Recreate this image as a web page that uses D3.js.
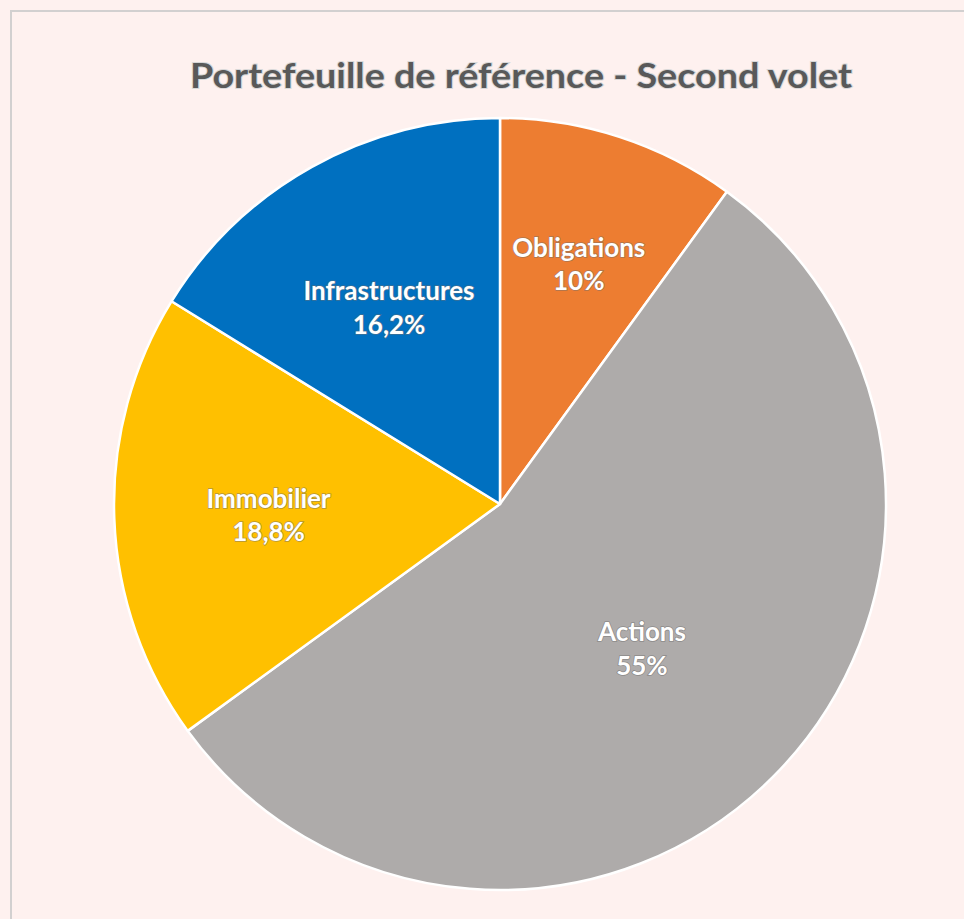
<!DOCTYPE html>
<html>
<head>
<meta charset="utf-8">
<script src="https://cdn.jsdelivr.net/npm/d3@7"></script>
<style>
  html, body { margin: 0; padding: 0; background: #fef1ef; }
  svg { display: block; }
</style>
</head>
<body>
<div id="chart"></div>
<script>
// data
var categories = ['Obligations', 'Actions', 'Immobilier', 'Infrastructures'];
var shares = [10, 55, 18.8, 16.2];
var shareLabels = ['10%', '55%', '18,8%', '16,2%'];
var colors = ['#ed7d31', '#aeabaa', '#ffc000', '#0070c0'];
var title = 'Portefeuille de référence - Second volet';

var width = 964, height = 919;
var cx = 500, cy = 504, radius = 386;
// how far out each label sits, as a share of the radius
var labelPos = {Obligations: 0.66, Actions: 0.52, Immobilier: 0.6, Infrastructures: 0.59};

var svg = d3.select('#chart').append('svg')
  .attr('width', width)
  .attr('height', height);

// chart frame
svg.append('rect')
  .attr('x', 11)
  .attr('y', 11)
  .attr('width', width + 20)
  .attr('height', height + 20)
  .attr('fill', '#fef1ef')
  .attr('stroke', '#d2d0d0')
  .attr('stroke-width', 2);

svg.append('text')
  .attr('x', 521)
  .attr('y', 88)
  .attr('text-anchor', 'middle')
  .attr('textLength', 662)
  .attr('lengthAdjust', 'spacingAndGlyphs')
  .style('font-family', 'Lato, sans-serif')
  .style('font-weight', 'bold')
  .style('font-size', '35px')
  .attr('fill', '#595959')
  .attr('stroke', '#d8d8d8')
  .attr('stroke-width', 2)
  .style('paint-order', 'stroke')
  .text(title);

var data = categories.map(function(c, i) {
  return {name: c, value: shares[i], label: shareLabels[i], color: colors[i]};
});

var pie = d3.pie()
  .sort(null)
  .value(function(d) { return d.value; });

var arc = d3.arc()
  .innerRadius(0)
  .outerRadius(radius);

var g = svg.append('g')
  .attr('transform', 'translate(' + cx + ',' + cy + ')');

var slices = pie(data);

g.selectAll('.slice')
  .data(slices)
  .enter().append('path')
  .attr('class', 'slice')
  .attr('d', arc)
  .attr('fill', function(d) { return d.data.color; })
  .attr('stroke', '#ffffff')
  .attr('stroke-width', 2.5)
  .attr('stroke-linejoin', 'round');

var labels = g.selectAll('.label')
  .data(slices)
  .enter().append('text')
  .attr('class', 'label')
  .attr('transform', function(d) {
    var r = radius * labelPos[d.data.name];
    var p = d3.arc().innerRadius(r).outerRadius(r).centroid(d);
    return 'translate(' + p[0] + ',' + p[1] + ')';
  })
  .attr('text-anchor', 'middle')
  .style('font-family', 'Lato, sans-serif')
  .style('font-weight', 'bold')
  .style('font-size', '26px')
  .attr('fill', '#ffffff')
  .attr('stroke', 'rgba(110,110,110,0.55)')
  .attr('stroke-width', 1.6)
  .style('paint-order', 'stroke');

labels.append('tspan')
  .attr('x', 0)
  .attr('dy', '-0.2em')
  .text(function(d) { return d.data.name; });

labels.append('tspan')
  .attr('x', 0)
  .attr('dy', '1.3em')
  .text(function(d) { return d.data.label; });
</script>
</body>
</html>
